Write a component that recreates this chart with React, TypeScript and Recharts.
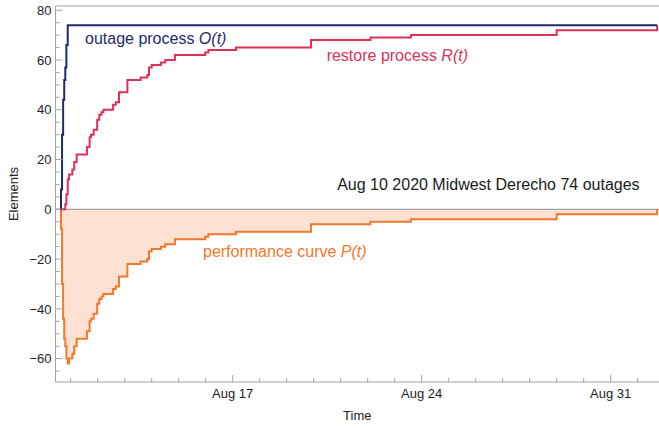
import React from "react";
import {
  ComposedChart,
  Area,
  Line,
  XAxis,
  YAxis,
  ReferenceLine,
  ReferenceDot,
} from "recharts";

// days after Aug 10 2020 00:00
const days = [
  0.6, 0.64, 0.68, 0.72, 0.76, 0.8, 0.84, 0.89, 0.94, 1.06, 1.13, 1.22, 1.6,
  1.7, 1.75, 1.85, 1.98, 2.06, 2.14, 2.21, 2.57, 2.67, 2.79, 3.1, 3.59, 3.84,
  3.9, 4.0, 4.34, 4.5, 4.86, 5.98, 6.1, 7.12, 9.9, 12.1, 13.6, 19.0, 22.72,
];
const outages = [
  0, 8, 30, 44, 52, 57, 66, 74, 74, 74, 74, 74, 74, 74, 74, 74, 74, 74, 74, 74,
  74, 74, 74, 74, 74, 74, 74, 74, 74, 74, 74, 74, 74, 74, 74, 74, 74, 74, 74,
];
const restored = [
  0, 0, 0, 0, 0, 2, 6, 12, 14, 16, 19, 22, 25, 29, 30, 32, 36, 38, 39, 40, 42,
  43, 47, 52, 53, 54, 57, 58, 59, 60, 62, 63, 64, 65, 68, 69, 70, 72, 74,
];
const performance = [
  0, -8, -30, -44, -52, -55, -60, -62, -60, -58, -55, -52, -49, -45, -44, -42,
  -38, -36, -35, -34, -32, -31, -27, -22, -21, -20, -17, -16, -15, -14, -12,
  -11, -10, -9, -6, -5, -4, -2, 0,
];

const dayTicks = [1, 2, 3, 4, 5, 6, 7, 8, 9, 10, 11, 12, 13, 14, 15, 16, 17, 18, 19, 20, 21, 22];
const majorDays = [7, 14, 21];
const dayLabels = ["Aug 17", "Aug 24", "Aug 31"];
const yTicks = [
  -65, -60, -55, -50, -45, -40, -35, -30, -25, -20, -15, -10, -5, 0, 5, 10, 15,
  20, 25, 30, 35, 40, 45, 50, 55, 60, 65, 70, 75, 80,
];
const xDomain = [0.437, 22.79];
const yDomain = [-69.4, 81.7];

const data = days.map((t, i) => ({
  t,
  outage: outages[i],
  restore: restored[i],
  perf: performance[i],
}));

const FONT = "Liberation Sans, Arial, sans-serif";
const AXIS = "#a3a3a3";
const NAVY = "#1f2a6b";
const RED = "#de3157";
const ORANGE = "#f4772a";
const PEACH = "#fde2d3";

const YTick = (props: any) => {
  const { x, y, payload } = props;
  const major = payload.value % 20 === 0;
  const ax = x + 4;
  const label = payload.value < 0 ? "\u2212" + Math.abs(payload.value) : String(payload.value);
  return (
    <g>
      <line x1={ax} x2={ax + (major ? 7 : 4)} y1={y} y2={y} stroke={AXIS} />
      {major && (
        <text x={x} y={y} dy="0.36em" textAnchor="end" fontSize={13} fontFamily={FONT} fill="#222">
          {label}
        </text>
      )}
    </g>
  );
};

const XTick = (props: any) => {
  const { x, y, payload } = props;
  const idx = majorDays.indexOf(payload.value);
  const ay = y - 6;
  return (
    <g>
      <line x1={x} x2={x} y1={ay} y2={ay - (idx >= 0 ? 7 : 4)} stroke={AXIS} />
      {idx >= 0 && (
        <text x={x} y={ay + 16} textAnchor="middle" fontSize={13} fontFamily={FONT} fill="#222">
          {dayLabels[idx]}
        </text>
      )}
    </g>
  );
};

const note = (text: string, italic: string, color: string) => (props: any) => {
  const { x, y } = props.viewBox;
  return (
    <text x={x} y={y} fill={color} fontSize={16} fontFamily={FONT}>
      {text}
      {italic && <tspan fontStyle="italic">{italic}</tspan>}
    </text>
  );
};

export default function App() {
  return (
    <div>
      <style>{"body{margin:0}"}</style>
      <ComposedChart
        width={659}
        height={428}
        data={data}
        margin={{ top: 6, right: 0, bottom: 0, left: 0 }}
      >
        <XAxis
          dataKey="t"
          type="number"
          domain={xDomain}
          allowDataOverflow
          ticks={dayTicks}
          interval={0}
          tick={<XTick />}
          tickLine={false}
          tickSize={0}
          tickMargin={6}
          height={46}
          stroke={AXIS}
          label={{
            value: "Time",
            position: "insideBottom",
            offset: 8,
            fontSize: 13,
            fontFamily: FONT,
            fill: "#222",
          }}
        />
        <YAxis
          type="number"
          domain={yDomain}
          allowDataOverflow
          ticks={yTicks}
          interval={0}
          tick={<YTick />}
          tickLine={false}
          tickSize={0}
          tickMargin={4}
          width={55.5}
          stroke={AXIS}
          label={{
            content: (p: any) => {
              const vb = p.viewBox;
              const cx = vb.x + 13;
              const cy = vb.y + vb.height / 2;
              return (
                <text
                  x={cx}
                  y={cy}
                  transform={`rotate(-90 ${cx} ${cy})`}
                  textAnchor="middle"
                  dy="0.35em"
                  fontSize={13}
                  fontFamily={FONT}
                  fill="#222"
                >
                  Elements
                </text>
              );
            },
          }}
        />
        <ReferenceLine y={yDomain[1]} stroke={AXIS} />
        <Area
          dataKey="perf"
          type="stepAfter"
          baseValue={0}
          stroke="none"
          fill={PEACH}
          fillOpacity={1}
          isAnimationActive={false}
        />
        <ReferenceLine y={0} stroke={AXIS} strokeWidth={1.2} />
        <Line
          dataKey="perf"
          type="stepAfter"
          stroke={ORANGE}
          strokeWidth={2}
          dot={false}
          isAnimationActive={false}
        />
        <Line
          dataKey="restore"
          type="stepAfter"
          stroke={RED}
          strokeWidth={2}
          dot={false}
          isAnimationActive={false}
        />
        <Line
          dataKey="outage"
          type="stepAfter"
          stroke={NAVY}
          strokeWidth={2}
          dot={false}
          isAnimationActive={false}
        />
        <ReferenceDot x={1.53} y={66.6} r={0} stroke="none" fill="none" label={{ content: note("outage process ", "O(t)", NAVY) }} />
        <ReferenceDot x={10.48} y={59.7} r={0} stroke="none" fill="none" label={{ content: note("restore process ", "R(t)", RED) }} />
        <ReferenceDot x={5.9} y={-19.3} r={0} stroke="none" fill="none" label={{ content: note("performance curve ", "P(t)", ORANGE) }} />
        <ReferenceDot x={10.87} y={7.76} r={0} stroke="none" fill="none" label={{ content: note("Aug 10 2020 Midwest Derecho 74 outages", "", "#1a1a1a") }} />
      </ComposedChart>
    </div>
  );
}
